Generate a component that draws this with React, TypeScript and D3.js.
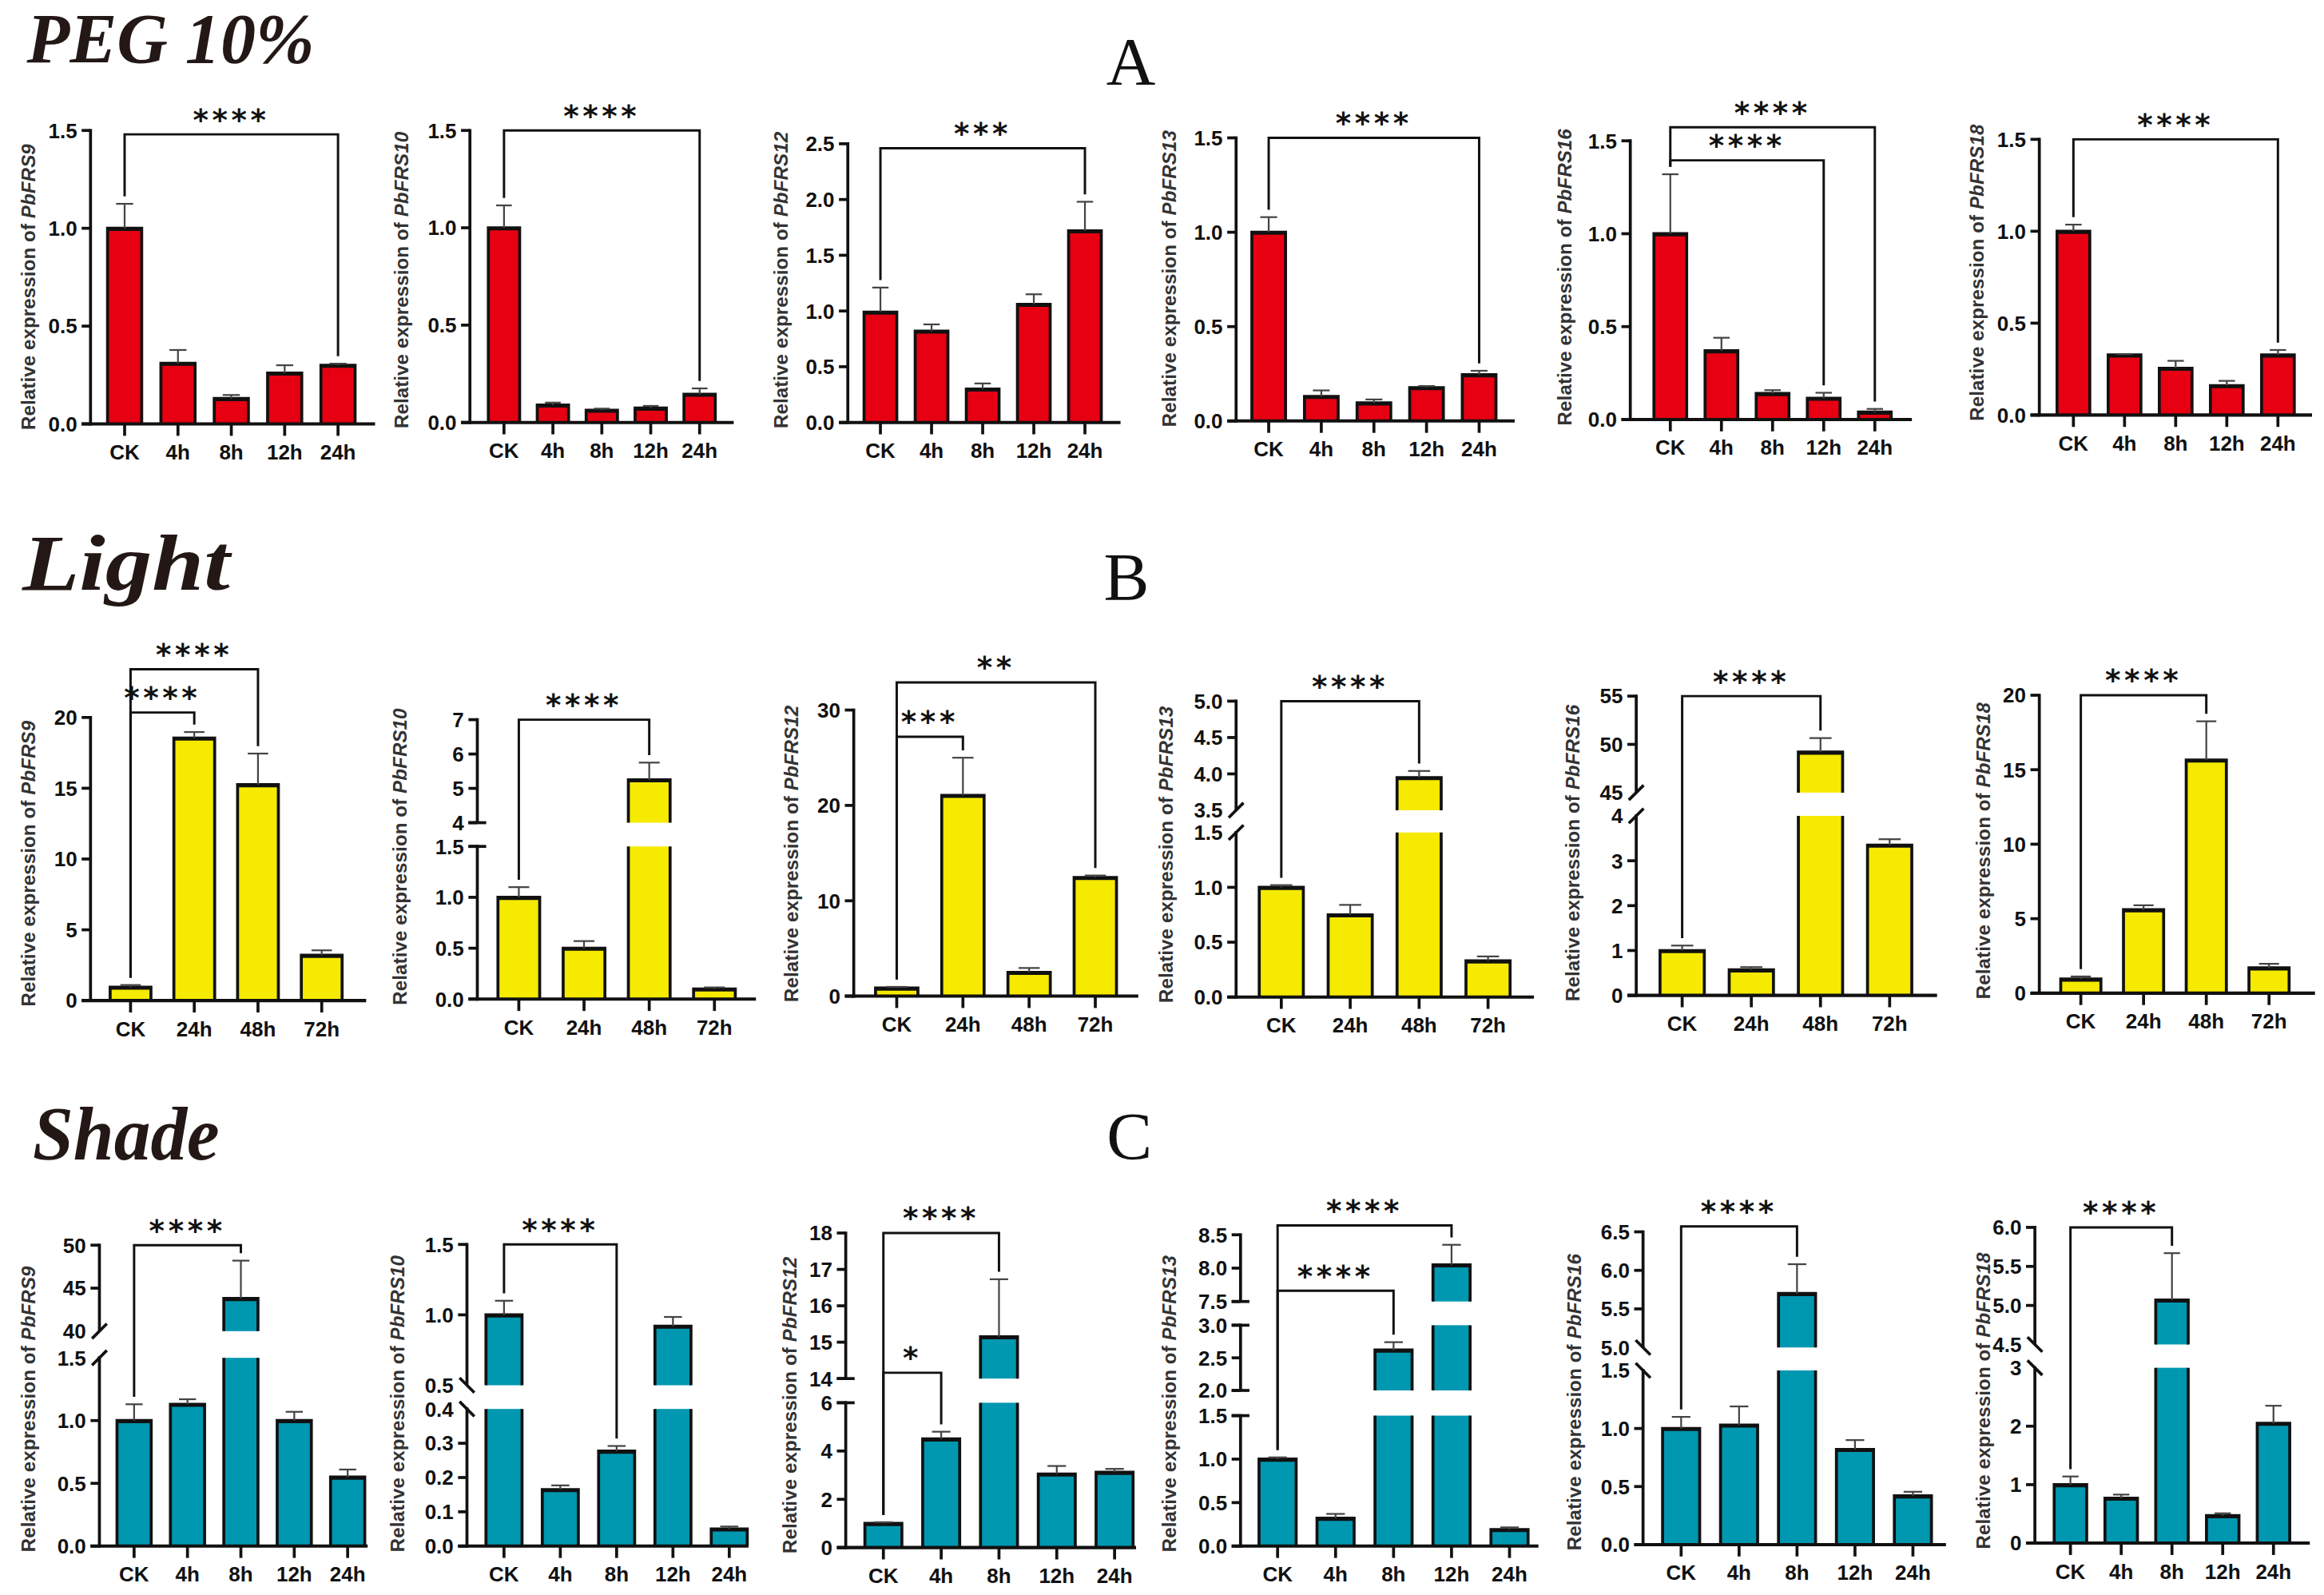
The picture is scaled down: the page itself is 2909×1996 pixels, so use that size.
import * as d3 from "d3";

// ---- data ----
const genes = ["PbFRS9", "PbFRS10", "PbFRS12", "PbFRS13", "PbFRS16", "PbFRS18"];

const pegCats = ["CK", "4h", "8h", "12h", "24h"];
const lightCats = ["CK", "24h", "48h", "72h"];
const shadeCats = ["CK", "4h", "8h", "12h", "24h"];

const pegMeans = [
  [1.0, 0.31, 0.13, 0.26, 0.3],
  [1.0, 0.09, 0.063, 0.074, 0.145],
  [0.99, 0.82, 0.3, 1.06, 1.72],
  [1.0, 0.13, 0.096, 0.177, 0.245],
  [1.0, 0.37, 0.14, 0.115, 0.04],
  [1.0, 0.327, 0.255, 0.16, 0.327],
];
const pegErrors = [
  [0.125, 0.068, 0.018, 0.04, 0.008],
  [0.115, 0.012, 0.008, 0.011, 0.03],
  [0.22, 0.06, 0.05, 0.09, 0.26],
  [0.08, 0.032, 0.018, 0.008, 0.021],
  [0.32, 0.07, 0.018, 0.029, 0.017],
  [0.036, 0.005, 0.04, 0.026, 0.027],
];

const lightMeans = [
  [0.95, 18.55, 15.25, 3.2],
  [1.0, 0.5, 5.25, 0.1],
  [0.85, 21.05, 2.5, 12.45],
  [1.0, 0.75, 3.95, 0.33],
  [1.0, 0.57, 49.2, 3.35],
  [0.95, 5.6, 15.65, 1.7],
];
const lightErrors = [
  [0.15, 0.42, 2.2, 0.35],
  [0.1, 0.07, 0.5, 0.015],
  [0.12, 3.95, 0.45, 0.2],
  [0.02, 0.09, 0.09, 0.04],
  [0.11, 0.06, 1.45, 0.13],
  [0.17, 0.3, 2.6, 0.27],
];

const shadeMeans = [
  [1.0, 1.13, 43.8, 1.0, 0.55],
  [1.0, 0.165, 0.277, 0.92, 0.05],
  [1.0, 4.5, 15.15, 3.05, 3.12],
  [1.0, 0.32, 2.62, 8.05, 0.19],
  [1.0, 1.03, 5.7, 0.82, 0.42],
  [1.0, 0.77, 5.07, 0.47, 2.05],
];
const shadeErrors = [
  [0.13, 0.04, 4.4, 0.07, 0.06],
  [0.1, 0.012, 0.015, 0.065, 0.007],
  [0.05, 0.3, 1.58, 0.33, 0.14],
  [0.02, 0.05, 0.12, 0.3, 0.025],
  [0.1, 0.16, 0.38, 0.08, 0.035],
  [0.14, 0.06, 0.6, 0.04, 0.3],
];

// axis segments (bottom -> top) and tick values per segment
const pegSegments = [[[0, 1.5]], [[0, 1.5]], [[0, 2.5]], [[0, 1.5]], [[0, 1.5]], [[0, 1.5]]];
const pegTicks = [
  [[0, 0.5, 1, 1.5]],
  [[0, 0.5, 1, 1.5]],
  [[0, 0.5, 1, 1.5, 2, 2.5]],
  [[0, 0.5, 1, 1.5]],
  [[0, 0.5, 1, 1.5]],
  [[0, 0.5, 1, 1.5]],
];
const lightSegments = [
  [[0, 20]],
  [[0, 1.5], [4, 7]],
  [[0, 30]],
  [[0, 1.5], [3.5, 5]],
  [[0, 4], [45, 55]],
  [[0, 20]],
];
const lightTicks = [
  [[0, 5, 10, 15, 20]],
  [[0, 0.5, 1, 1.5], [4, 5, 6, 7]],
  [[0, 10, 20, 30]],
  [[0, 0.5, 1, 1.5], [3.5, 4, 4.5, 5]],
  [[0, 1, 2, 3, 4], [45, 50, 55]],
  [[0, 5, 10, 15, 20]],
];
const shadeSegments = [
  [[0, 1.5], [40, 50]],
  [[0, 0.4], [0.5, 1.5]],
  [[0, 6], [14, 18]],
  [[0, 1.5], [2, 3], [7.5, 8.5]],
  [[0, 1.5], [5, 6.5]],
  [[0, 3], [4.5, 6]],
];
const shadeTicks = [
  [[0, 0.5, 1, 1.5], [40, 45, 50]],
  [[0, 0.1, 0.2, 0.3, 0.4], [0.5, 1, 1.5]],
  [[0, 2, 4, 6], [14, 15, 16, 17, 18]],
  [[0, 0.5, 1, 1.5], [2, 2.5, 3], [7.5, 8, 8.5]],
  [[0, 0.5, 1, 1.5], [5, 5.5, 6, 6.5]],
  [[0, 1, 2, 3], [4.5, 5, 5.5, 6]],
];

// axis break marks: cap = flat ends, "/" or "\" = slash
const pegBreaks = ["", "", "", "", "", ""];
const lightBreaks = ["", "cap", "", "/", "/", ""];
const shadeBreaks = ["/", "\\", "cap", "cap", "\\", "\\"];

// significance brackets: [from, to, level, label]
type Bracket = [number, number, number, string];
const pegBrackets: Bracket[][] = [
  [[0, 4, 1.48, "****"]],
  [[0, 4, 1.5, "****"]],
  [[0, 4, 2.46, "***"]],
  [[0, 4, 1.5, "****"]],
  [[0, 4, 1.573, "****"], [0, 3, 1.395, "****"]],
  [[0, 4, 1.5, "****"]],
];
const lightBrackets: Bracket[][] = [
  [[0, 2, 23.4, "****"], [0, 1, 20.35, "****"]],
  [[0, 2, 7.0, "****"]],
  [[0, 3, 32.9, "**"], [0, 1, 27.2, "***"]],
  [[0, 2, 5.0, "****"]],
  [[0, 2, 55, "****"]],
  [[0, 2, 20, "****"]],
];
const shadeBrackets: Bracket[][] = [
  [[0, 2, 50, "****"]],
  [[0, 2, 1.5, "****"]],
  [[0, 2, 18, "****"], [0, 1, 14.16, "*"]],
  [[0, 3, 8.64, "****"], [0, 2, 7.66, "****"]],
  [[0, 2, 6.57, "****"]],
  [[0, 2, 6.0, "****"]],
];

// ---- layout (viewBox units) ----
interface Lay { ax: number; x0: number; x1: number; xEnd: number; ys: number[][]; lx: number }
const pegLayout: Lay[] = [
  { ax: 61, x0: 84, x1: 228, xEnd: 253, ys: [[286, 88]], lx: 19 },
  { ax: 317, x0: 340, x1: 472, xEnd: 495, ys: [[285, 88]], lx: 271 },
  { ax: 572, x0: 594, x1: 732, xEnd: 756, ys: [[285, 97]], lx: 527 },
  { ax: 834, x0: 856, x1: 998, xEnd: 1022, ys: [[284, 93]], lx: 789 },
  { ax: 1100, x0: 1127, x1: 1265, xEnd: 1290, ys: [[283, 95]], lx: 1056 },
  { ax: 1376, x0: 1399, x1: 1537, xEnd: 1560, ys: [[280, 94]], lx: 1334 },
];
const lightLayout: Lay[] = [
  { ax: 61, x0: 88, x1: 217, xEnd: 247, ys: [[675, 484]], lx: 19 },
  { ax: 322, x0: 350, x1: 482, xEnd: 510, ys: [[674, 571], [555, 485.5]], lx: 270 },
  { ax: 576, x0: 605, x1: 739, xEnd: 768, ys: [[672, 479]], lx: 534 },
  { ax: 834, x0: 864.5, x1: 1004, xEnd: 1035, ys: [[672.6, 561.6], [546.6, 473]], lx: 787 },
  { ax: 1104, x0: 1135, x1: 1275, xEnd: 1307, ys: [[671.5, 550.4], [534.7, 469.6]], lx: 1061 },
  { ax: 1376, x0: 1404, x1: 1531, xEnd: 1562, ys: [[670, 469]], lx: 1338 },
];
const shadeLayout: Lay[] = [
  { ax: 67, x0: 90.4, x1: 234.5, xEnd: 248, ys: [[1043, 916], [898, 840]], lx: 19 },
  { ax: 315, x0: 340, x1: 492, xEnd: 505, ys: [[1043, 950.5], [934.5, 839.5]], lx: 268 },
  { ax: 570.6, x0: 596, x1: 752, xEnd: 766.5, ys: [[1044, 946.3], [930, 831.8]], lx: 533 },
  { ax: 837, x0: 862, x1: 1018.5, xEnd: 1038, ys: [[1043, 955], [938, 894], [878, 833]], lx: 789 },
  { ax: 1108.6, x0: 1134.3, x1: 1290.7, xEnd: 1313, ys: [[1042, 924.5], [909, 831]], lx: 1062 },
  { ax: 1373, x0: 1397, x1: 1534, xEnd: 1558.5, ys: [[1041, 922.7], [907, 828]], lx: 1338 },
];

const rows = [
  { title: "PEG 10%", tx: 18, ty: 42, tlen: 194, tsize: 48, letter: "A", lx: 763, ly: 57, cats: pegCats, means: pegMeans, errs: pegErrors, segs: pegSegments, ticks: pegTicks, breaks: pegBreaks, brackets: pegBrackets, layout: pegLayout, color: "#E60012" },
  { title: "Light", tx: 15, ty: 398, tlen: 140, tsize: 54, letter: "B", lx: 760, ly: 405, cats: lightCats, means: lightMeans, errs: lightErrors, segs: lightSegments, ticks: lightTicks, breaks: lightBreaks, brackets: lightBrackets, layout: lightLayout, color: "#F5EA00" },
  { title: "Shade", tx: 22, ty: 782, tlen: 126, tsize: 51, letter: "C", lx: 762, ly: 782, cats: shadeCats, means: shadeMeans, errs: shadeErrors, segs: shadeSegments, ticks: shadeTicks, breaks: shadeBreaks, brackets: shadeBrackets, layout: shadeLayout, color: "#0097B0" },
];

const SANS = "'Liberation Sans', Arial, sans-serif";
const SERIF = "'Liberation Serif', 'Times New Roman', serif";

function Panel(props: any) {
  const { cats, means, errs, segs, ticks, brk, brackets, lay, color, gene } = props;
  const x = d3.scalePoint<string>().domain(cats).range([lay.x0, lay.x1]);
  const step = (lay.x1 - lay.x0) / (cats.length - 1);
  const bw = step * 0.64;
  const scales = segs.map((s: number[], i: number) =>
    d3.scaleLinear().domain(s).range(lay.ys[i])
  );
  const last = segs.length - 1;
  const yOf = (v: number) => {
    let k = 0;
    segs.forEach((s: number[], i: number) => {
      if (v >= s[0]) k = i;
    });
    return scales[k](v);
  };
  const yBottom = lay.ys[0][0];
  const fmt = (arr: number[]) =>
    arr.some((t) => !Number.isInteger(t)) ? d3.format(".1f") : d3.format("d");

  return (
    <g>
      {/* bars */}
      {cats.map((c: string, j: number) => {
        const v = means[j];
        const xl = (x(c) as number) - bw / 2;
        const xr = xl + bw;
        return (
          <g key={c}>
            {segs.map((s: number[], i: number) => {
              if (v <= s[0]) return null;
              const top = Math.min(v, s[1]);
              const closed = v <= s[1] || i === last;
              const yb = scales[i](s[0]);
              const yt = scales[i](top);
              const d = closed
                ? `M${xl},${yb}V${yt}H${xr}V${yb}`
                : `M${xl},${yb}V${yt}M${xr},${yt}V${yb}`;
              return (
                <g key={i}>
                  <rect x={xl} y={yt} width={bw} height={yb - yt} fill={color} />
                  <path d={d} fill="none" stroke="#111" strokeWidth={2} />
                  {closed && (
                    <line x1={xl} x2={xr} y1={yt + 1} y2={yt + 1} stroke="#111" strokeWidth={1.5} />
                  )}
                </g>
              );
            })}
          </g>
        );
      })}
      {/* error bars */}
      {cats.map((c: string, j: number) => {
        const cx = x(c) as number;
        const y1 = yOf(means[j]);
        const y2 = yOf(means[j] + errs[j]);
        const cw = bw * 0.5;
        return (
          <g key={"e" + c} stroke="#444" strokeWidth={1.2}>
            <line x1={cx} x2={cx} y1={y1} y2={y2} />
            <line x1={cx - cw / 2} x2={cx + cw / 2} y1={y2} y2={y2} />
          </g>
        );
      })}
      {/* y axis segments */}
      {segs.map((s: number[], i: number) => (
        <line
          key={"ax" + i}
          x1={lay.ax}
          x2={lay.ax}
          y1={scales[i](s[0]) + (i === 0 ? 1 : 0)}
          y2={scales[i](s[1]) - 1}
          stroke="#111"
          strokeWidth={2}
        />
      ))}
      {/* y ticks */}
      {segs.map((s: number[], i: number) => {
        const f = fmt(ticks[i]);
        return ticks[i].map((t: number) => {
          const y = scales[i](t);
          const breakEnd = (i < last && t === s[1]) || (i > 0 && t === s[0]);
          const slash = brk === "/" || brk === "\\";
          return (
            <g key={"t" + i + "-" + t}>
              {!(slash && breakEnd) && (
                <line x1={lay.ax - 6} x2={lay.ax} y1={y} y2={y} stroke="#111" strokeWidth={2} />
              )}
              <text
                x={lay.ax - 9}
                y={y}
                dy="0.36em"
                textAnchor="end"
                fontFamily={SANS}
                fontWeight="bold"
                fontSize={14}
                fill="#111"
              >
                {f(t)}
              </text>
            </g>
          );
        });
      })}
      {/* break marks */}
      {segs.slice(0, last).map((s: number[], i: number) => {
        const ends = [scales[i](s[1]), scales[i + 1](segs[i + 1][0])];
        return ends.map((y, k) => {
          if (brk === "cap")
            return <line key={"b" + i + k} x1={lay.ax - 6} x2={lay.ax + 6} y1={y} y2={y} stroke="#111" strokeWidth={2} />;
          const dir = brk === "/" ? 1 : -1;
          return (
            <line
              key={"b" + i + k}
              x1={lay.ax - 5}
              x2={lay.ax + 5}
              y1={y + 5 * dir}
              y2={y - 5 * dir}
              stroke="#111"
              strokeWidth={2}
            />
          );
        });
      })}
      {/* x axis */}
      <line x1={lay.ax - 6} x2={lay.xEnd} y1={yBottom} y2={yBottom} stroke="#111" strokeWidth={2.2} />
      {cats.map((c: string) => (
        <g key={"x" + c}>
          <line x1={x(c)} x2={x(c)} y1={yBottom} y2={yBottom + 8} stroke="#111" strokeWidth={2} />
          <text
            x={x(c)}
            y={yBottom + 24}
            textAnchor="middle"
            fontFamily={SANS}
            fontWeight="bold"
            fontSize={14}
            fill="#111"
          >
            {c}
          </text>
        </g>
      ))}
      {/* brackets */}
      {brackets.map((b: Bracket, k: number) => {
        const [from, to, level, label] = b;
        const xf = x(cats[from]) as number;
        const xt = x(cats[to]) as number;
        const yl = yOf(level);
        const ef = yOf(means[from] + errs[from]) - 5;
        const et = yOf(means[to] + errs[to]) - 5;
        return (
          <g key={"br" + k}>
            <path d={`M${xf},${ef}V${yl}H${xt}V${et}`} fill="none" stroke="#111" strokeWidth={1.6} />
            <text
              x={(xf + xt) / 2}
              y={yl - 3}
              textAnchor="middle"
              fontFamily="'DejaVu Sans', sans-serif"
              fontWeight="bold"
              fontSize={20}
              letterSpacing={2.5}
              fill="#111"
            >
              {label}
            </text>
          </g>
        );
      })}
      {/* y label */}
      <text
        transform={`translate(${lay.lx + 4.5},${yBottom + 4}) rotate(-90)`}
        fontFamily={SANS}
        fontWeight="bold"
        fontSize={13}
        letterSpacing={0.05}
        fill="#333"
      >
        Relative expression of <tspan fontStyle="italic">{gene}</tspan>
      </text>
    </g>
  );
}

export default function App() {
  return (
    <div style={{ position: "absolute", left: 0, top: 0, background: "#fff" }}>
      <svg
        width={2909}
        height={1996}
        viewBox="0 0 1568 1076"
        style={{ display: "block", background: "#fff" }}
      >
        {rows.map((r) => (
          <g key={r.title}>
            <text
              x={r.tx}
              y={r.ty}
              fontFamily={SERIF}
              fontWeight="bold"
              fontStyle="italic"
              fontSize={r.tsize}
              textLength={r.tlen}
              lengthAdjust="spacingAndGlyphs"
              fill="#231815"
            >
              {r.title}
            </text>
            <text x={r.lx} y={r.ly} textAnchor="middle" fontFamily={SERIF} fontSize={46} fill="#111">
              {r.letter}
            </text>
            {genes.map((g, i) => (
              <Panel
                key={g}
                gene={g}
                cats={r.cats}
                means={r.means[i]}
                errs={r.errs[i]}
                segs={r.segs[i]}
                ticks={r.ticks[i]}
                brk={r.breaks[i]}
                brackets={r.brackets[i]}
                lay={r.layout[i]}
                color={r.color}
              />
            ))}
          </g>
        ))}
      </svg>
    </div>
  );
}
